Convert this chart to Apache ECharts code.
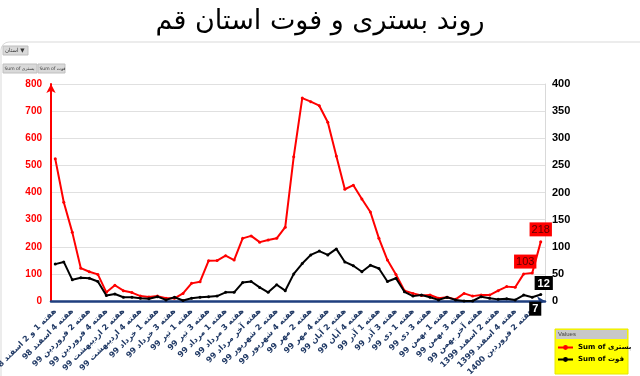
<!DOCTYPE html>
<html>
<head>
<meta charset="utf-8">
<script src="https://cdn.jsdelivr.net/npm/echarts@6/dist/echarts.min.js"></script>
<style>
html,body{margin:0;padding:0;background:#fff;}
#chart{width:640px;height:376px;}
</style>
</head>
<body>
<div id="chart"></div>
<script>
const categories = [
 'هفته 1 و 2 اسفند 98','هفته 3 اسفند 98','هفته 4 اسفند 98',
 'هفته 1 فروردین 99','هفته 2 فروردین 99','هفته 3 فروردین 99','هفته 4 فروردین 99',
 'هفته 1 اردیبهشت 99','هفته 2 اردیبهشت 99','هفته 3 اردیبهشت 99','هفته 4 اردیبهشت 99','هفته آخر اردیبهشت 99',
 'هفته 1 خرداد 99','هفته 2 خرداد 99','هفته 3 خرداد 99','هفته 4 خرداد 99',
 'هفته 1 تیر 99','هفته 2 تیر 99','هفته 3 تیر 99','هفته 4 تیر 99',
 'هفته 1 مرداد 99','هفته 2 مرداد 99','هفته 3 مرداد 99','هفته 4 مرداد 99','هفته آخر مرداد 99',
 'هفته 1 شهریور 99','هفته 2 شهریور 99','هفته 3 شهریور 99','هفته 4 شهریور 99',
 'هفته 1 مهر 99','هفته 2 مهر 99','هفته 3 مهر 99','هفته 4 مهر 99',
 'هفته 1 آبان 99','هفته 2 آبان 99','هفته 3 آبان 99','هفته 4 آبان 99','هفته آخر آبان 99',
 'هفته 1 آذر 99','هفته 2 آذر 99','هفته 3 آذر 99','هفته 4 آذر 99',
 'هفته 1 دی 99','هفته 2 دی 99','هفته 3 دی 99','هفته 4 دی 99',
 'هفته 1 بهمن 99','هفته 2 بهمن 99','هفته 3 بهمن 99','هفته 4 بهمن 99','هفته آخر بهمن 99',
 'هفته 1 اسفند 1399','هفته 2 اسفند 1399','هفته 3 اسفند 1399','هفته 4 اسفند 1399',
 'هفته 1 فروردین 1400','هفته 2 فروردین 1400','هفته 3 فروردین 1400'
];
const hospitalized = [524,364,253,121,108,98,32,58,38,31,18,15,18,10,10,28,65,71,148,149,167,151,231,240,217,225,231,272,532,748,735,720,659,535,412,427,376,328,231,151,98,38,28,20,22,10,14,6,28,18,22,22,38,53,51,100,103,218];
const deaths = [68,72,39,43,42,36,10,13,7,7,5,4,8,2,7,1,5,7,8,9,16,16,34,36,25,16,30,19,50,69,85,92,85,96,72,65,54,66,60,36,42,17,9,11,7,2,7,2,0,0,8,5,3,4,2,11,7,12];
const leftTicks = {min:0, max:800, interval:100};
const rightTicks = {min:0, max:400, interval:50};
const seriesNames = ['Sum of بستری','Sum of فوت'];
const titleText = 'روند بستری و فوت استان قم';

const n = hospitalized.length;
const redData = hospitalized.map((v,i)=>{
  if(i===n-1) return {value:v,label:{show:true,position:'top',distance:4}};
  if(i===n-2) return {value:v,label:{show:true,position:'top',distance:3,offset:[-7,0]}};
  return v;
});
const blackData = deaths.map((v,i)=>{
  if(i===n-1) return {value:v,label:{show:true,position:'top',distance:3,offset:[3,0]}};
  if(i===n-2) return {value:v,label:{show:true,position:'bottom',distance:3,offset:[3,0]}};
  return v;
});

const chart = echarts.init(document.getElementById('chart'));
chart.setOption({
  animation:false,
  backgroundColor:'#fff',
  title:{text:titleText,left:'center',top:3,textStyle:{fontFamily:'DejaVu Sans',fontSize:27,fontWeight:'normal',color:'#000'}},
  grid:{left:51,right:95,top:84,bottom:75,containLabel:false,outerBoundsMode:'none'},
  legend:{
    orient:'vertical',left:557,top:344,itemGap:5,itemWidth:15,itemHeight:6,padding:0,
    textStyle:{fontSize:7,fontWeight:'bold',color:'#000',fontFamily:'DejaVu Sans'},
    data:seriesNames
  },
  graphic:[
    {type:'rect',z:-10,shape:{x:1,y:42,width:700,height:400,r:8},style:{fill:'none',stroke:'#d9d9d9',lineWidth:1}},
    {type:'rect',shape:{x:3,y:46,width:25,height:9},style:{fill:'#d9d9d9',stroke:'#bfbfbf'}},
    {type:'text',style:{x:5,y:47.5,text:'استان ▼',fontSize:5.5,fill:'#333',fontFamily:'DejaVu Sans'}},
    {type:'rect',shape:{x:3,y:64,width:34,height:9},style:{fill:'#d9d9d9',stroke:'#bfbfbf'}},
    {type:'text',style:{x:4.5,y:66,text:'Sum of بستری',fontSize:4.5,fill:'#333',fontFamily:'DejaVu Sans'}},
    {type:'rect',shape:{x:38,y:64,width:27,height:9},style:{fill:'#d9d9d9',stroke:'#bfbfbf'}},
    {type:'text',style:{x:39.5,y:66,text:'Sum of فوت',fontSize:4.5,fill:'#333',fontFamily:'DejaVu Sans'}},
    {type:'rect',z:-1,shape:{x:555,y:329,width:73,height:45},style:{fill:'#ffff00',stroke:'#e6e600'}},
    {type:'rect',z:-1,shape:{x:556,y:330,width:71,height:9},style:{fill:'#c8c8c8'}},
    {type:'text',style:{x:558,y:331,text:'Values',fontSize:6,fill:'#444'}}
  ],
  xAxis:{
    type:'category',data:categories,boundaryGap:true,
    axisLine:{show:true,symbol:['none','arrow'],symbolSize:[7,8],lineStyle:{color:'#1f3f7f',width:2.5}},
    axisTick:{show:false},
    axisLabel:{interval:1,rotate:45,margin:9,fontSize:8,fontWeight:'bold',color:'#1f3864',fontFamily:'DejaVu Sans'},
    splitLine:{show:false}
  },
  yAxis:[
    {type:'value',min:leftTicks.min,max:leftTicks.max,interval:leftTicks.interval,position:'left',
     axisLine:{show:true,symbol:['none','arrow'],symbolSize:[7,9],lineStyle:{color:'#ff0000',width:2}},
     axisTick:{show:false},
     axisLabel:{color:'#ff0000',fontWeight:'bold',fontSize:10,margin:9,fontFamily:'Liberation Sans'},
     splitLine:{show:true,lineStyle:{color:'#e0e0e0',width:1}}},
    {type:'value',min:rightTicks.min,max:rightTicks.max,interval:rightTicks.interval,position:'right',
     axisLine:{show:true,lineStyle:{color:'#d9d9d9',width:1}},
     axisTick:{show:false},
     axisLabel:{color:'#000',fontWeight:'bold',fontSize:11,margin:7,fontFamily:'Liberation Sans'},
     splitLine:{show:false}}
  ],
  series:[
    {name:seriesNames[0],type:'line',yAxisIndex:0,data:redData,symbol:'circle',symbolSize:3,
     lineStyle:{color:'#ff0000',width:2},itemStyle:{color:'#ff0000'},
     label:{show:false,backgroundColor:'#ff0000',color:'#5a0000',fontSize:11,padding:[2,2,1,2],fontFamily:'Liberation Sans'},
     z:3},
    {name:seriesNames[1],type:'line',yAxisIndex:1,data:blackData,symbol:'circle',symbolSize:3,
     lineStyle:{color:'#000',width:2},itemStyle:{color:'#000'},
     label:{show:false,backgroundColor:'#000',color:'#fff',fontSize:11,fontWeight:'bold',padding:[2,3,1,3],fontFamily:'Liberation Sans'},
     z:4}
  ]
});
</script>
</body>
</html>
